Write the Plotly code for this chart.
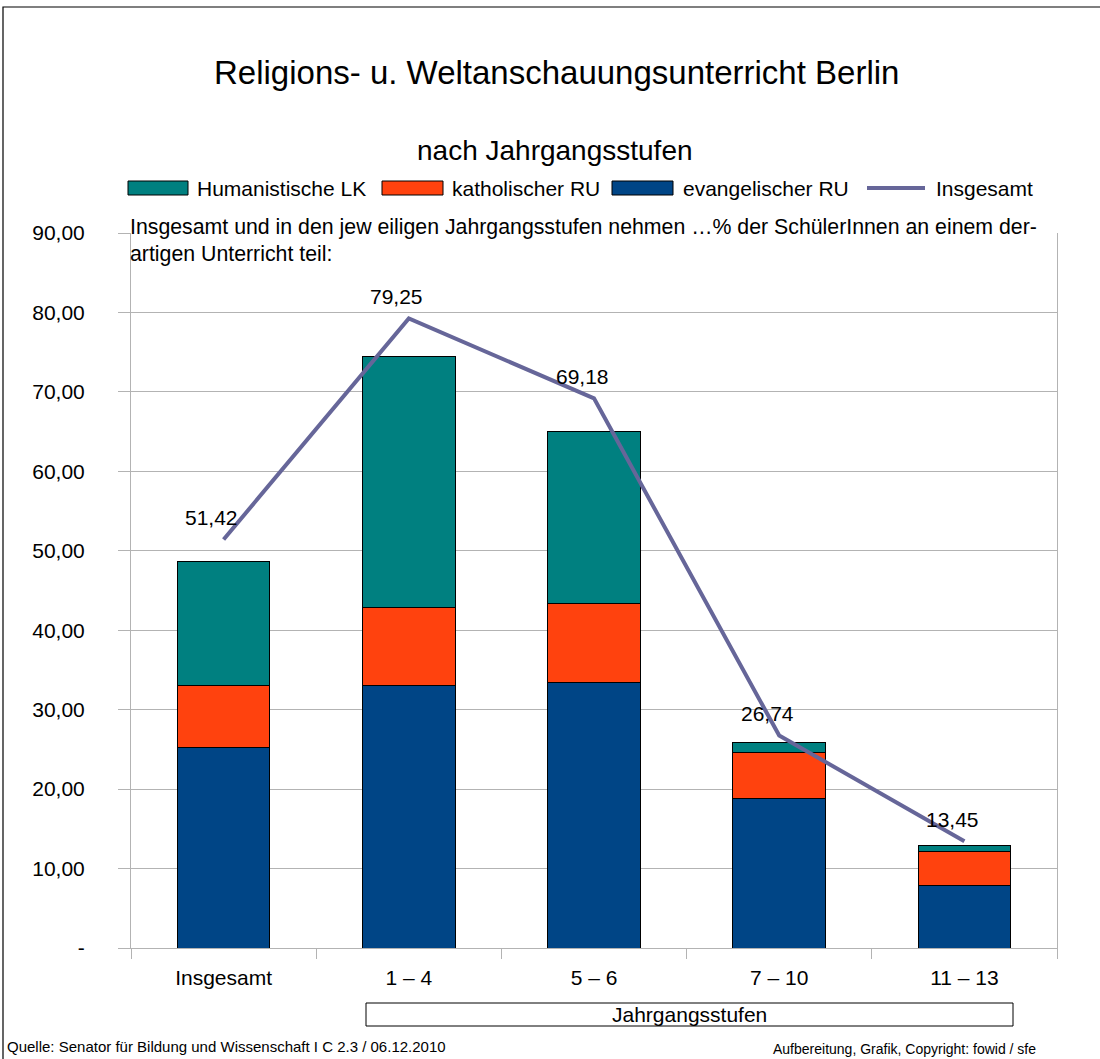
import plotly.graph_objects as go

categories = ["Insgesamt", "1 – 4", "5 – 6", "7 – 10", "11 – 13"]
evangelisch = [25.2, 33.0, 33.4, 18.8, 7.9]
katholisch = [7.8, 9.9, 10.0, 5.8, 4.2]
humanistisch = [15.6, 31.5, 21.6, 1.3, 0.8]
insgesamt = [51.42, 79.25, 69.18, 26.74, 13.45]
y_tickvals = [0, 10, 20, 30, 40, 50, 60, 70, 80, 90]
y_ticktext = ["-", "10,00", "20,00", "30,00", "40,00", "50,00", "60,00", "70,00", "80,00", "90,00"]

W, H = 1100, 1059
L, R, T, B = 131, 1057, 233, 948
FONT = "Liberation Sans, Arial, sans-serif"
FS = 21


def px(x):
    return (x - L) / (R - L)


def py(y):
    return (B - y) / (B - T)


C_TEAL = "#008080"
C_ORANGE = "#FF420E"
C_BLUE = "#004586"
C_LINE = "#666699"

fig = go.Figure()
fig.add_trace(go.Bar(x=categories, y=evangelisch, name="evangelischer RU",
                     marker=dict(color=C_BLUE, line=dict(color="black", width=1))))
fig.add_trace(go.Bar(x=categories, y=katholisch, name="katholischer RU",
                     marker=dict(color=C_ORANGE, line=dict(color="black", width=1))))
fig.add_trace(go.Bar(x=categories, y=humanistisch, name="Humanistische LK",
                     marker=dict(color=C_TEAL, line=dict(color="black", width=1))))
fig.add_trace(go.Scatter(x=categories, y=insgesamt, name="Insgesamt", mode="lines",
                         line=dict(color=C_LINE, width=4), cliponaxis=False))

shapes = []
annotations = []

# data labels of the line
for c, v in zip(categories, insgesamt):
    annotations.append(dict(text=f"{v:.2f}".replace(".", ","), x=c, y=v, xref="x", yref="y",
                            showarrow=False, xanchor="center", yanchor="middle",
                            xshift=-12, yshift=22,
                            font=dict(family=FONT, size=FS, color="black")))

# outer frame
shapes.append(dict(type="rect", xref="paper", yref="paper",
                   x0=px(3), x1=px(1110), y0=py(1070), y1=py(7),
                   line=dict(color="black", width=1.2), fillcolor="rgba(0,0,0,0)"))

# title & subtitle
annotations.append(dict(text="Religions- u. Weltanschauungsunterricht Berlin",
                        x=px(556), y=py(72), xref="paper", yref="paper", showarrow=False,
                        font=dict(family=FONT, size=33, color="black"), xanchor="center", yanchor="middle"))
annotations.append(dict(text="nach Jahrgangsstufen",
                        x=px(555), y=py(150), xref="paper", yref="paper", showarrow=False,
                        font=dict(family=FONT, size=28, color="black"), xanchor="center", yanchor="middle"))

# manual legend
legend_items = [
    ("rect", C_TEAL, 128, 188, "Humanistische LK", 195),
    ("rect", C_ORANGE, 382, 443, "katholischer RU", 450),
    ("rect", C_BLUE, 612, 673, "evangelischer RU", 681),
    ("line", C_LINE, 867, 925, "Insgesamt", 934),
]
for kind, col, x0, x1, label, tx in legend_items:
    if kind == "rect":
        shapes.append(dict(type="rect", xref="paper", yref="paper",
                           x0=px(x0), x1=px(x1), y0=py(195), y1=py(181),
                           fillcolor=col, line=dict(color="black", width=1)))
    else:
        shapes.append(dict(type="line", xref="paper", yref="paper",
                           x0=px(x0), x1=px(x1), y0=py(188), y1=py(188),
                           line=dict(color=col, width=4)))
    annotations.append(dict(text=label, x=px(tx), y=py(188), xref="paper", yref="paper",
                            showarrow=False, xanchor="left", yanchor="middle",
                            font=dict(family=FONT, size=FS, color="black")))

# note text
annotations.append(dict(text="Insgesamt und in den jew eiligen Jahrgangsstufen nehmen …% der SchülerInnen an einem der-",
                        x=px(128), y=py(227), xref="paper", yref="paper", showarrow=False,
                        xanchor="left", yanchor="middle", font=dict(family=FONT, size=21.3, color="black")))
annotations.append(dict(text="artigen Unterricht teil:",
                        x=px(128), y=py(254), xref="paper", yref="paper", showarrow=False,
                        xanchor="left", yanchor="middle", font=dict(family=FONT, size=21.3, color="black")))

# Jahrgangsstufen box
shapes.append(dict(type="rect", xref="paper", yref="paper",
                   x0=px(366), x1=px(1013), y0=py(1026), y1=py(1003),
                   line=dict(color="black", width=1), fillcolor="white"))
annotations.append(dict(text="Jahrgangsstufen", x=px(689), y=py(1014.5), xref="paper", yref="paper",
                        showarrow=False, xanchor="center", yanchor="middle",
                        font=dict(family=FONT, size=FS, color="black")))

# footer
annotations.append(dict(text="Quelle: Senator für Bildung und Wissenschaft I C 2.3 / 06.12.2010",
                        x=px(5), y=py(1046), xref="paper", yref="paper", showarrow=False,
                        xanchor="left", yanchor="middle", font=dict(family=FONT, size=15, color="black")))
annotations.append(dict(text="Aufbereitung, Grafik, Copyright: fowid / sfe",
                        x=px(1038), y=py(1049), xref="paper", yref="paper", showarrow=False,
                        xanchor="right", yanchor="middle", font=dict(family=FONT, size=14, color="black")))

fig.update_layout(
    width=W, height=H,
    margin=dict(l=L, r=W - R, t=T, b=H - B, pad=0),
    barmode="stack", bargap=0.5,
    showlegend=False,
    plot_bgcolor="white", paper_bgcolor="white",
    font=dict(family=FONT, size=FS, color="black"),
    shapes=shapes, annotations=annotations,
)
fig.update_xaxes(type="category", tickson="boundaries", ticks="outside", ticklen=10,
                 tickcolor="#b3b3b3", showgrid=False, showline=True, linecolor="#b3b3b3",
                 linewidth=1, mirror=False, ticklabelstandoff=11,
                 tickfont=dict(family=FONT, size=FS, color="black"))
fig.update_yaxes(range=[0, 90], tickvals=y_tickvals, ticktext=y_ticktext,
                 ticks="outside", ticklen=12, tickcolor="#b3b3b3",
                 showgrid=True, gridcolor="#b3b3b3", gridwidth=1,
                 showline=True, linecolor="#b3b3b3", linewidth=1, mirror=True,
                 zeroline=False, ticklabelstandoff=29,
                 tickfont=dict(family=FONT, size=FS, color="black"))

fig.write_html("out.html", config={"displayModeBar": False},
               post_script="document.body.style.margin='0';document.body.style.overflow='hidden';")
